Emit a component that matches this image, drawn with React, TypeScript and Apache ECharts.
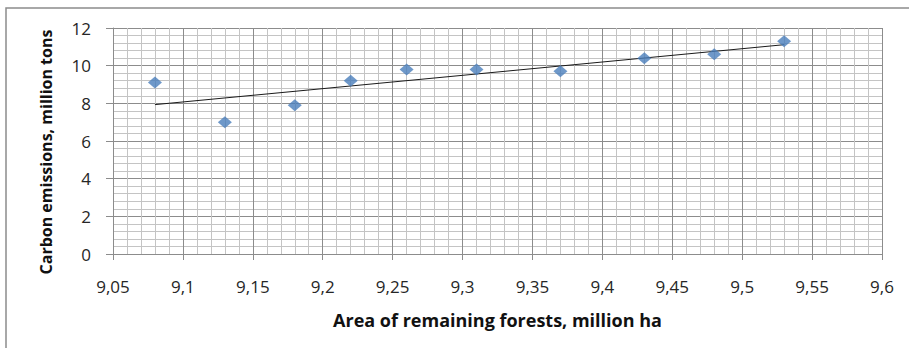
import React, { useEffect, useRef } from "react";
import * as echarts from "echarts";

const areaMillionHa = [9.08, 9.13, 9.18, 9.22, 9.26, 9.31, 9.37, 9.43, 9.48, 9.53];
const emissionsMillionTons = [9.1, 7.0, 7.9, 9.2, 9.8, 9.8, 9.7, 10.4, 10.6, 11.3];
const xAxisTitle = "Area of remaining forests, million ha";
const yAxisTitle = "Carbon emissions, million tons";

function linearTrend(xs: number[], ys: number[]) {
  const n = xs.length;
  const mx = xs.reduce((a, b) => a + b, 0) / n;
  const my = ys.reduce((a, b) => a + b, 0) / n;
  let sxy = 0;
  let sxx = 0;
  for (let i = 0; i < n; i++) {
    sxy += (xs[i] - mx) * (ys[i] - my);
    sxx += (xs[i] - mx) * (xs[i] - mx);
  }
  const slope = sxy / sxx;
  const icpt = my - slope * mx;
  const x0 = Math.min(...xs);
  const x1 = Math.max(...xs);
  return [
    [x0, icpt + slope * x0],
    [x1, icpt + slope * x1],
  ];
}

export default function App() {
  const ref = useRef<HTMLDivElement>(null);
  useEffect(() => {
    document.body.style.margin = "0";
    if (!ref.current) return;
    const chart = echarts.init(ref.current, null, { renderer: "svg" });
    const points = areaMillionHa.map((x, i) => [x, emissionsMillionTons[i]]);
    const trend = linearTrend(areaMillionHa, emissionsMillionTons);
    const tickFont = { fontFamily: "Open Sans", fontSize: 17, color: "#262626" };
    chart.setOption({
      animation: false,
      backgroundColor: "#ffffff",
      graphic: [
        {
          type: "rect",
          shape: { x: 6, y: 8, width: 1000, height: 1000 },
          style: { fill: "none", stroke: "#8c8c8c", lineWidth: 1.5 },
          silent: true,
        },
        {
          type: "text",
          x: 46,
          y: 152,
          rotation: Math.PI / 2,
          style: {
            text: yAxisTitle,
            fontFamily: "Open Sans",
            fontWeight: "bold",
            fontSize: 16,
            fill: "#111",
            align: "center",
            verticalAlign: "middle",
          },
          silent: true,
        },
      ],
      grid: { left: 113, top: 28, right: 27, bottom: 94 },
      xAxis: {
        type: "value",
        min: 9.05,
        max: 9.6,
        interval: 0.05,
        name: xAxisTitle,
        nameLocation: "middle",
        nameGap: 57,
        nameTextStyle: { fontFamily: "Open Sans", fontWeight: "bold", fontSize: 18, color: "#111" },
        axisLine: { show: true, onZero: false, lineStyle: { color: "#8c8c8c", width: 1 } },
        axisTick: { show: true, length: 6, lineStyle: { color: "#8c8c8c" } },
        axisLabel: {
          ...tickFont,
          margin: 24,
          formatter: (v: number) => parseFloat(v.toFixed(2)).toString().replace(".", ","),
        },
        splitLine: { show: true, lineStyle: { color: "#8c8c8c", width: 1 } },
        minorTick: { show: false, splitNumber: 5 },
        minorSplitLine: { show: true, lineStyle: { color: "#c4c4c4", width: 1 } },
      },
      yAxis: {
        type: "value",
        min: 0,
        max: 12,
        interval: 2,
        axisLine: { show: true, lineStyle: { color: "#8c8c8c", width: 1 } },
        axisTick: { show: true, length: 7, lineStyle: { color: "#8c8c8c" } },
        axisLabel: { ...tickFont, margin: 22 },
        splitLine: { show: true, lineStyle: { color: "#8c8c8c", width: 1 } },
        minorTick: { show: false, splitNumber: 5 },
        minorSplitLine: { show: true, lineStyle: { color: "#c4c4c4", width: 1 } },
      },
      series: [
        {
          type: "line",
          data: trend,
          showSymbol: false,
          symbol: "none",
          lineStyle: { color: "#1a1a1a", width: 1 },
          silent: true,
          z: 2,
        },
        {
          type: "scatter",
          data: points,
          symbol: "diamond",
          symbolSize: [14, 12],
          itemStyle: { color: "#4a7ebb" },
          z: 3,
        },
      ],
    });
    return () => chart.dispose();
  }, []);
  return <div ref={ref} style={{ width: 909, height: 348 }} />;
}
